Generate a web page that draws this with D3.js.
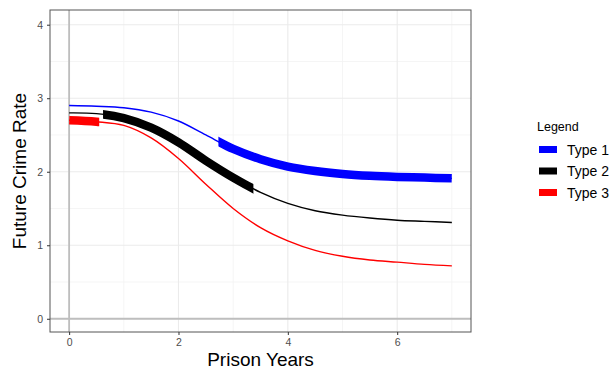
<!DOCTYPE html>
<style>
body { margin: 0; background: #fff; }
svg { font-family: "Liberation Sans", Arial, sans-serif; }
</style>
<script src="https://d3js.org/d3.v7.min.js"></script>
<svg width="612" height="370"></svg>
<script>
// prison years sampled every half year
var years = [0, 0.5, 1, 1.5, 2, 2.5, 3, 3.5, 4, 4.5, 5, 5.5, 6, 6.5, 7];
var type1 = [2.90, 2.89, 2.87, 2.81, 2.69, 2.50, 2.31, 2.17, 2.07, 2.01, 1.97, 1.945, 1.93, 1.92, 1.91];
var type2 = [2.80, 2.79, 2.73, 2.60, 2.40, 2.15, 1.92, 1.72, 1.57, 1.47, 1.41, 1.37, 1.34, 1.325, 1.31];
var type3 = [2.70, 2.68, 2.63, 2.46, 2.18, 1.83, 1.50, 1.24, 1.06, 0.93, 0.85, 0.80, 0.77, 0.74, 0.72];
var seriesNames = ["Type 1", "Type 2", "Type 3"];
var seriesColors = ["#0000ff", "#000000", "#ff0000"];
// range of years drawn with the heavy stroke
var thickFrom = [2.73, 0.62, 0];
var thickTo = [7, 3.37, 0.55];
var xTicks = [0, 2, 4, 6];
var yTicks = [0, 1, 2, 3, 4];

var svg = d3.select("svg");
var pL = 50, pR = 471, pT = 10, pB = 332;

var x = d3.scaleLinear().domain([-0.35, 7.35]).range([pL, pR]);
var y = d3.scaleLinear().domain([-0.18, 4.2]).range([pB, pT]);

// grid
var grid = svg.append("g");
grid.selectAll(".minx").data([1, 3, 5, 7]).enter().append("line")
    .attr("x1", d => x(d)).attr("x2", d => x(d)).attr("y1", pT).attr("y2", pB)
    .attr("stroke", "#f2f2f2").attr("stroke-width", 0.8);
grid.selectAll(".miny").data([0.5, 1.5, 2.5, 3.5]).enter().append("line")
    .attr("y1", d => y(d)).attr("y2", d => y(d)).attr("x1", pL).attr("x2", pR)
    .attr("stroke", "#f2f2f2").attr("stroke-width", 0.8);
grid.selectAll(".majx").data(xTicks).enter().append("line")
    .attr("x1", d => x(d)).attr("x2", d => x(d)).attr("y1", pT).attr("y2", pB)
    .attr("stroke", "#ebebeb").attr("stroke-width", 1.1);
grid.selectAll(".majy").data(yTicks).enter().append("line")
    .attr("y1", d => y(d)).attr("y2", d => y(d)).attr("x1", pL).attr("x2", pR)
    .attr("stroke", "#ebebeb").attr("stroke-width", 1.1);

// reference lines at zero
svg.append("line").attr("x1", x(0)).attr("x2", x(0)).attr("y1", pT).attr("y2", pB)
    .attr("stroke", "#bebebe").attr("stroke-width", 1.8);
svg.append("line").attr("y1", y(0)).attr("y2", y(0)).attr("x1", pL).attr("x2", pR)
    .attr("stroke", "#bebebe").attr("stroke-width", 1.8);

var all = [type1, type2, type3];
var line = d3.line()
    .x((d, i) => x(years[i]))
    .y(d => y(d))
    .curve(d3.curveCatmullRom.alpha(0.5));

var defs = svg.append("defs");
all.forEach(function(vals, k) {
  defs.append("clipPath").attr("id", "clip" + k)
    .append("rect")
      .attr("x", x(thickFrom[k])).attr("width", x(thickTo[k]) - x(thickFrom[k]))
      .attr("y", pT).attr("height", pB - pT);
});

all.forEach(function(vals, k) {
  svg.append("path").datum(vals)
      .attr("d", line)
      .attr("fill", "none")
      .attr("stroke", seriesColors[k])
      .attr("stroke-width", 1.4);
});
all.forEach(function(vals, k) {
  svg.append("path").datum(vals)
      .attr("d", line)
      .attr("clip-path", "url(#clip" + k + ")")
      .attr("fill", "none")
      .attr("stroke", seriesColors[k])
      .attr("stroke-width", 8.5);
});

// panel border
svg.append("rect").attr("x", pL).attr("y", pT)
    .attr("width", pR - pL).attr("height", pB - pT)
    .attr("fill", "none").attr("stroke", "#555").attr("stroke-width", 1);

// axes
var xAxis = svg.append("g").attr("transform", "translate(0," + pB + ")")
    .call(d3.axisBottom(x).tickValues(xTicks).tickFormat(d3.format("d")).tickSize(3).tickPadding(4));
var yAxis = svg.append("g").attr("transform", "translate(" + pL + ",0)")
    .call(d3.axisLeft(y).tickValues(yTicks).tickFormat(d3.format("d")).tickSize(3).tickPadding(4));
[xAxis, yAxis].forEach(function(a) {
  a.select(".domain").remove();
  a.selectAll(".tick line").attr("stroke", "#333");
  a.selectAll(".tick text").attr("fill", "#4d4d4d")
      .style("font-family", "Liberation Sans, Arial, sans-serif").style("font-size", "10.5px");
});

svg.append("text").attr("x", (pL + pR) / 2).attr("y", 366)
    .attr("text-anchor", "middle").style("font-size", "19px").text("Prison Years");
svg.append("text").attr("transform", "translate(26," + ((pT + pB) / 2) + ") rotate(-90)")
    .attr("text-anchor", "middle").style("font-size", "19px").text("Future Crime Rate");

// legend
var lg = svg.append("g").attr("transform", "translate(537,0)");
lg.append("text").attr("x", 0).attr("y", 131).style("font-size", "12.5px").text("Legend");
seriesNames.forEach(function(n, i) {
  var cy = 149.5 + i * 21.5;
  lg.append("rect").attr("x", 2).attr("y", cy - 3.5).attr("width", 18).attr("height", 7)
      .attr("fill", seriesColors[i]);
  lg.append("text").attr("x", 30).attr("y", cy + 5).style("font-size", "14px").text(n);
});
</script>
